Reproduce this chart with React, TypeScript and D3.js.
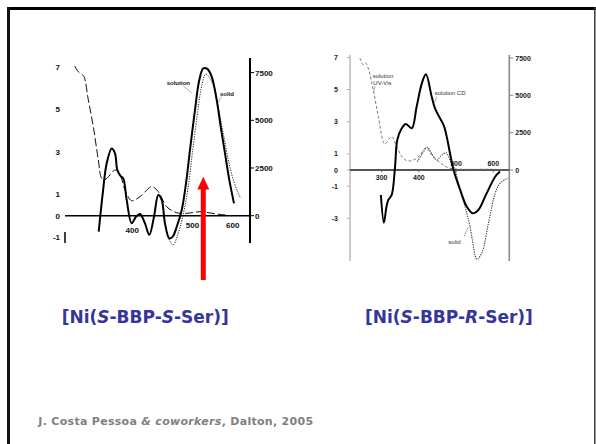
import React from 'react';
import * as d3 from 'd3';

type Pt = [number, number];

// ---------- [Ni(S-BBP-S-Ser)] ----------
// CD in solution, Δε (left axis), wavelength in nm
const sSerCdSolution: Pt[] = [
  [360, -0.75], [364.4, 1.05], [368.8, 2.46], [374.5, 3.16], [378.4, 2.93], [381.2, 2.15],
  [385.3, 1.86], [388.5, 1.75], [392.8, 0.74], [399.3, -0.36], [405.1, -0.05], [410.6, 0.08],
  [417.7, -0.36], [424, -0.9], [431.2, -0.05], [437.9, 0.97], [443.4, 0.74], [448.8, -0.36],
  [456.1, -1.06], [462.1, -0.98], [469.3, -0.52], [478.6, 0.27], [486.9, 1.52], [494.8, 3.08],
  [505.2, 4.96], [514.5, 6.37], [523.4, 6.92], [532.7, 6.89], [543.2, 6.53], [555.8, 5.43],
  [566.2, 4.18], [577.9, 2.93], [590, 1.68], [603.9, 0.58],
];
// CD of the solid, Δε (left axis)
const sSerCdSolid: Pt[] = [
  [431.2, -0.05], [437.9, 0.95], [443.4, 0.7], [449.5, -0.45], [456.5, -1.15], [463, -1.37],
  [470.5, -0.95], [480.5, -0.05], [491, 1.3], [500, 3.0], [510, 4.7], [519, 6.0], [528.9, 6.65],
  [539, 6.45], [551.5, 5.9], [560, 5.04], [573.2, 3.87], [587.2, 2.61], [601.8, 1.68],
  [617.2, 1.05], [625, 0.82],
];
// UV-Vis in solution, ε (right axis)
const sSerUvVis: Pt[] = [
  [336, 7844], [339.3, 7546], [342.6, 7425], [344.9, 7284], [349.2, 6063], [354.3, 4664],
  [359.6, 2919], [363.3, 1960], [366.9, 1900], [372.6, 2133], [378.4, 2395], [384.5, 2133],
  [390.7, 1347], [399.3, 786], [410.6, 996], [427.7, 1520], [437.9, 1258], [451.7, 472],
  [469.3, 157], [488.3, 126], [516, 210], [555.8, 89], [597, 0],
];
const sSerPeakNm = 523.4;

// ---------- [Ni(S-BBP-R-Ser)] ----------
const rSerCdSolution: Pt[] = [
  [298, -1.55], [306, -3.27], [313, -2.28], [318, -1.86], [327, -1.55], [336, 0.2], [342, 1.86],
  [354, 2.59], [365, 2.86], [381, 2.59], [394, 3.93], [408, 5.38], [419, 5.94], [434.5, 4.55],
  [443.4, 3.83], [456.9, 3.21], [467.6, 2.73], [474.9, 2.07], [483.7, 1.04], [492.6, 0.04],
  [511, -1.24], [529, -2.28], [545, -2.69], [560, -2.48], [582, -1.45], [605, -0.42], [618, -0.1],
];
const rSerCdSolid: Pt[] = [
  [396, 0.52], [409, 1.0], [422.7, 1.41], [435, 1.0], [448, 0.62], [460, 0.9], [473, 1.07],
  [485, 0.55], [497, 0], [511, -1.24], [524, -2.28], [537.5, -3.52], [551, -5.28], [556, -5.55],
  [569, -5.17], [587, -3.31], [605, -1.45], [618, -0.83], [640, -0.5],
];
const rSerUvVis: Pt[] = [
  [241.6, 7495], [250.5, 7045], [257, 7160], [264, 6824], [277.4, 5368], [290.9, 3576],
  [304.3, 1899], [308.9, 1745], [326.9, 2235], [340.4, 1563], [358.1, 785], [371.6, 604],
  [389.6, 718], [403, 1006], [419.2, 1496], [434.5, 1006], [448, 671], [465.7, 335],
  [483.7, 114], [520, 50], [600.2, 47], [636.3, 0],
];

// Tick labels
const sSerYTicks = [7, 5, 3, 1, 0, -1];
const sSerEpsTicks = [7500, 5000, 2500, 0];
const sSerXTicks = [400, 500, 600];
const rSerYTicks = [7, 5, 3, 1, 0, -1, -3];
const rSerEpsTicks = [7500, 5000, 2500, 0];
const rSerXTicks = [300, 400, 500, 600];

const titles = ['S-Ser', 'R-Ser'];

const chartFont = '"Liberation Sans", Arial, sans-serif';
const slideFont = 'Verdana, "DejaVu Sans", sans-serif';

export default function App() {
  // Left panel: energy-linear abscissa (wavenumber, cm⁻¹)
  const L = { x0: 65, x1: 250, y0: 58, y1: 243 };
  const lxNu = d3.scaleLinear().domain([30572, 15232]).range([L.x0, L.x1]);
  const lx = (nm: number) => lxNu(1e7 / nm);
  const ly = d3.scaleLinear().domain([0, 7]).range([215.7, 66.6]);
  const lyEps = d3.scaleLinear().domain([0, 7500]).range([215.7, 72.6]);

  // Right panel: wavelength-linear abscissa
  const R = { x0: 350, x1: 509.3, y0: 55, y1: 261 };
  const rx = d3.scaleLinear().domain([215, 643]).range([R.x0, R.x1]);
  const ry = d3.scaleLinear().domain([0, 7]).range([170, 57.3]);
  const ryEps = d3.scaleLinear().domain([0, 7500]).range([170, 58]);

  const mk = (fx: (v: number) => number, fy: (v: number) => number) =>
    d3.line<Pt>().x(d => fx(d[0])).y(d => fy(d[1])).curve(d3.curveCatmullRom.alpha(0.5));

  const lCd = mk(lx, ly);
  const lUv = mk(lx, lyEps);
  const rCd = mk(rx, ry);
  const rUv = mk(rx, ryEps);

  const arrowX = lx(sSerPeakNm);

  return (
    <svg width={596} height={444} style={{ position: 'absolute', left: 0, top: 0, background: '#fff' }}>
      <rect x={0} y={0} width={596} height={444} fill="#fff" />
      {/* slide frame */}
      <rect x={7} y={7} width={589} height={3} fill="#000" />
      <rect x={7} y={7} width={3} height={437} fill="#111" />
      <line x1={594.8} y1={7} x2={594.8} y2={444} stroke="#3a3a3a" strokeWidth={1.5} />

      {/* ---------- left panel ---------- */}
      <g fontFamily={chartFont} fontWeight="bold" fill="#111">
        <line x1={L.x0} y1={ly(0)} x2={L.x1} y2={ly(0)} stroke="#000" strokeWidth={1.6} />
        <line x1={L.x1} y1={L.y0} x2={L.x1} y2={L.y1} stroke="#000" strokeWidth={2} />
        <line x1={L.x0} y1={232} x2={L.x0} y2={L.y1} stroke="#000" strokeWidth={1.5} />
        {sSerYTicks.map(t => (
          <text key={t} x={60} y={ly(t) + 3} fontSize={8} textAnchor="end">{t}</text>
        ))}
        {sSerEpsTicks.map(t => (
          <g key={t}>
            <line x1={L.x1} y1={lyEps(t)} x2={L.x1 + 4} y2={lyEps(t)} stroke="#000" strokeWidth={1} />
            <text x={L.x1 + 5} y={lyEps(t) + 3} fontSize={8}>{t}</text>
          </g>
        ))}
        {sSerXTicks.map(t => (
          <text key={t} x={lx(t)} y={t === 400 ? 233 : 227.5} fontSize={8} textAnchor="middle">{t}</text>
        ))}

        <path d={lUv(sSerUvVis) ?? ''} fill="none" stroke="#111" strokeWidth={1} strokeDasharray="8,3" />
        <path d={lCd(sSerCdSolid) ?? ''} fill="none" stroke="#222" strokeWidth={1} strokeDasharray="1.2,1.3" />
        <path d={lCd(sSerCdSolution) ?? ''} fill="none" stroke="#000" strokeWidth={2} />

        <text x={166.7} y={84.8} fontSize={6}>solution</text>
        <line x1={183.3} y1={86} x2={191.7} y2={92.7} stroke="#888" strokeWidth={0.7} />
        <text x={220} y={95.8} fontSize={6}>solid</text>
        <line x1={221.7} y1={96.5} x2={218.3} y2={102} stroke="#888" strokeWidth={0.7} />
      </g>

      {/* red arrow at the band maximum */}
      <g fill="#ff0000">
        <rect x={arrowX - 2.5} y={189} width={5} height={91} />
        <polygon points={`${arrowX},176.7 ${arrowX - 6},189.5 ${arrowX + 6},189.5`} />
      </g>

      {/* ---------- right panel ---------- */}
      <g fontFamily={chartFont} fill="#1a1a1a">
        <line x1={R.x0} y1={R.y0} x2={R.x0} y2={R.y1} stroke="#9a9a9a" strokeWidth={1} />
        <line x1={R.x1} y1={R.y0} x2={R.x1} y2={R.y1} stroke="#8a8a8a" strokeWidth={1.6} />
        <line x1={R.x0} y1={ry(0)} x2={R.x1} y2={ry(0)} stroke="#555" strokeWidth={1.8} />
        {rSerYTicks.map(t => (
          <g key={t}>
            <line x1={R.x0 - 3} y1={ry(t)} x2={R.x0} y2={ry(t)} stroke="#999" strokeWidth={0.8} />
            <text x={338} y={ry(t) + 2.5} fontSize={7} fontWeight="bold" textAnchor="end">{t}</text>
          </g>
        ))}
        {rSerEpsTicks.map(t => (
          <g key={t}>
            <line x1={R.x1} y1={ryEps(t)} x2={R.x1 + 4} y2={ryEps(t)} stroke="#8a8a8a" strokeWidth={1} />
            <text x={R.x1 + 6} y={ryEps(t) + 2.5} fontSize={7} fontWeight="bold">{t}</text>
          </g>
        ))}
        {rSerXTicks.map(t => (
          <g key={t}>
            <line x1={rx(t)} y1={ry(0)} x2={rx(t)} y2={ry(0) + 2.5} stroke="#555" strokeWidth={0.8} />
            <text x={rx(t)} y={t < 450 ? 180 : 166} fontSize={7} fontWeight="bold" textAnchor="middle">{t}</text>
          </g>
        ))}

        <path d={rUv(rSerUvVis) ?? ''} fill="none" stroke="#6a6a6a" strokeWidth={0.9} strokeDasharray="3,2" />
        <path d={rCd(rSerCdSolid) ?? ''} fill="none" stroke="#333" strokeWidth={1.1} strokeDasharray="1.2,1.2" />
        <path d={rCd(rSerCdSolution) ?? ''} fill="none" stroke="#000" strokeWidth={2} />

        <text x={372.7} y={77.5} fontSize={6} fill="#333">solution</text>
        <text x={373.3} y={84.5} fontSize={6} fill="#333">UV-Vis</text>
        <line x1={375} y1={86} x2={373.5} y2={93} stroke="#888" strokeWidth={0.7} />
        <text x={434.5} y={95.3} fontSize={6} fill="#333">solution CD</text>
        <line x1={436.7} y1={96.5} x2={434} y2={104} stroke="#888" strokeWidth={0.7} />
        <text x={448.3} y={243.7} fontSize={6} fill="#333">solid</text>
        <line x1={464} y1={236.7} x2={468.3} y2={227} stroke="#888" strokeWidth={0.7} />
      </g>

      {/* compound labels */}
      <g fontFamily={slideFont} fontWeight="bold" fontSize={17} fill="#35359a">
        <text x={61.7} y={322.7}>
          [Ni(<tspan fontStyle="italic">S</tspan>-BBP-<tspan fontStyle="italic">{titles[0][0]}</tspan>{titles[0].slice(1)})]
        </text>
        <text x={365} y={322.7}>
          [Ni(<tspan fontStyle="italic">S</tspan>-BBP-<tspan fontStyle="italic">{titles[1][0]}</tspan>{titles[1].slice(1)})]
        </text>
      </g>

      <text x={38.3} y={425} fontFamily={slideFont} fontWeight="bold" fontSize={11} letterSpacing={0.3} fill="#808080">
        J. Costa Pessoa <tspan fontStyle="italic">&amp; coworkers</tspan>, Dalton, 2005
      </text>
    </svg>
  );
}
